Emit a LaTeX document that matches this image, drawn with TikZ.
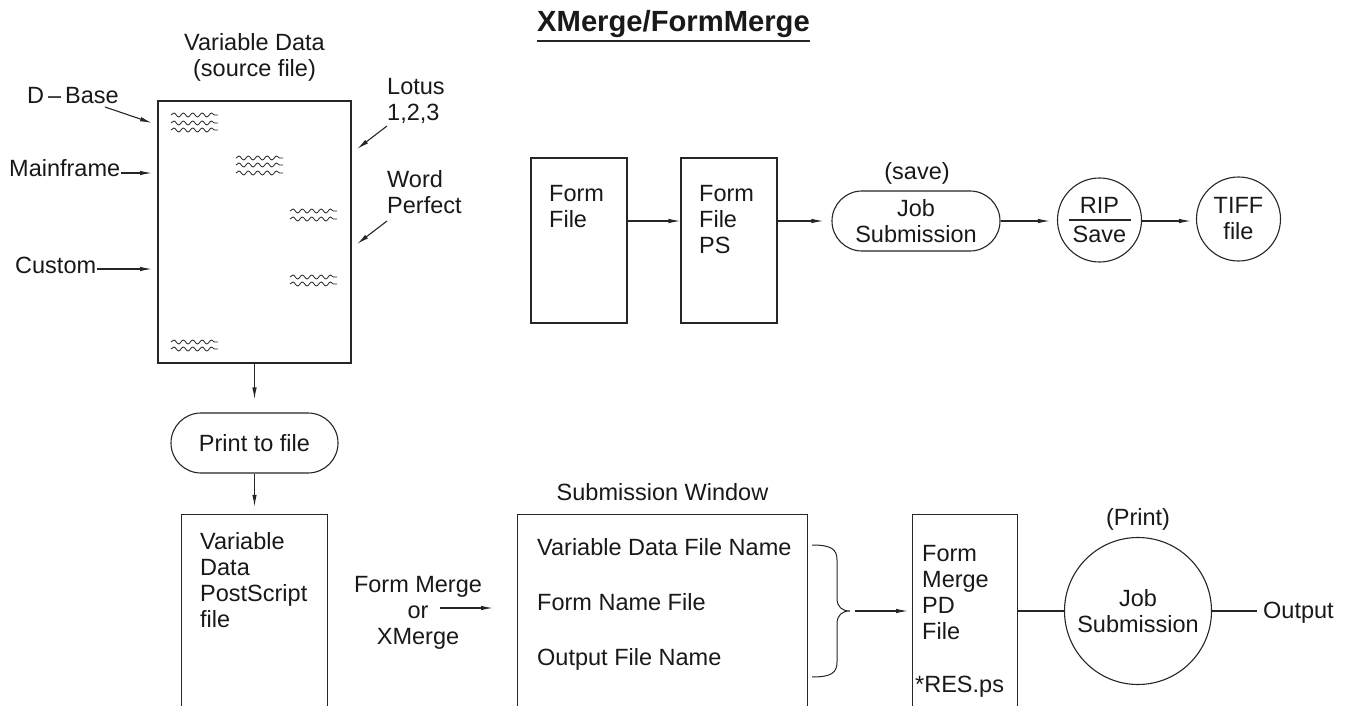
\documentclass[tikz,border=0pt]{standalone}
\usepackage{fontspec}
\setmainfont{Liberation Sans}
\usetikzlibrary{arrows.meta,decorations.pathmorphing,shapes.misc,calc}
\begin{document}
\begin{tikzpicture}[x=1pt,y=-1pt,
  every node/.style={font=\fontsize{23.5}{26}\selectfont, inner sep=0pt, text=black!90},
  line/.style={line width=1.1pt, draw=black!85},
  arr/.style={line, -{Latex[length=12pt,width=4.5pt]}},
  box/.style={line, draw, rectangle},
  pill/.style={line, draw, rounded rectangle},
  circ/.style={line, draw, circle},
  squig/.style={line width=0.8pt, draw=black!85, decorate, decoration={snake, segment length=9.4pt, amplitude=2pt}},
  lbl/.style={anchor=base west, align=left},
  clbl/.style={anchor=base, align=center},
]
\fill[white] (0,0) rectangle (1353,706);
\useasboundingbox (0,0) rectangle (1353,706);

% title (anchor = baseline)
\node[anchor=base, font=\bfseries\fontsize{29.2}{32}\selectfont] (title) at (673.5,32) {XMerge/FormMerge};
\draw[line] ($(title.base west)+(0,9)$) -- ($(title.base east)+(0,9)$);

% source file  (multi-line nodes: base anchor = last line baseline)
\node[clbl] (srclbl) at (254.5,77) {Variable Data\\(source file)};
\node[box, minimum width=193pt, minimum height=262pt] (src) at (254.5,232) {};
\foreach \x/\y in {171/115,171/123,171/130, 236/158,236/165,236/173, 290/211,290/219, 290/277,290/284, 171/342,171/349}
  \draw[squig] (\x,\y) -- ++(47,0);

\node[lbl] (dbase) at (27,104) {D\kern4pt--\kern4pt Base};
\node[lbl] (mainf) at (9,177) {Mainframe};
\node[lbl] (cust) at (15,273) {Custom};
\node[lbl] (lotus) at (387,121) {Lotus\\1,2,3};
\node[lbl] (wp) at (387,214) {Word\\Perfect};

\coordinate (dbA) at (105,107);  \coordinate (dbB) at (152,123);
\coordinate (mfB) at (152,173);
\coordinate (cuB) at (152,269);
\coordinate (loA) at (387,126);  \coordinate (loB) at (357,149);
\coordinate (wpA) at (387,221);  \coordinate (wpB) at (357,244);
\draw[arr] (dbA) -- (dbB);
\draw[arr] ([xshift=1pt,yshift=4pt]mainf.base east) -- (mfB);
\draw[arr] ([xshift=1pt,yshift=4pt]cust.base east) -- (cuB);
\draw[arr] (loA) -- (loB);
\draw[arr] (wpA) -- (wpB);

% print to file
\node[pill, minimum width=167pt, minimum height=60pt] (ptf) at (254.5,443) {Print to file};
\draw[arr, shorten >=13pt] (src.south) -- (ptf.north);

% variable data postscript (open box)
\node[minimum width=145pt, minimum height=191pt] (vdps) at (254.5,610.5) {};
\draw[line] (vdps.south west) -- (vdps.north west) -- (vdps.north east) -- (vdps.south east);
\draw[arr, shorten >=8pt] (ptf.south) -- (vdps.north);
\node[lbl] (vdpstxt) at (200,627) {Variable\\Data\\PostScript\\file};

% form merge label
\node[clbl] (fm) at (418,644) {Form Merge\\or\\XMerge};
\coordinate (fmA) at (440,608); \coordinate (fmB) at (493,608);
\draw[arr] (fmA) -- (fmB);

% submission window
\node[anchor=base] (swl) at (662.5,500) {Submission Window};
\node[minimum width=289pt, minimum height=191pt] (win) at (662.5,610.5) {};
\draw[line] (win.south west) -- (win.north west) -- (win.north east) -- (win.south east);
\node[lbl] (w1) at (537,555) {Variable Data File Name};
\node[lbl] (w2) at (537,610) {Form Name File};
\node[lbl] (w3) at (537,665) {Output File Name};
\coordinate (brTip) at (850,611);
\draw[line, line width=1pt] (812,545) .. controls (831,545) and (837,549) .. (837,560) -- (837,598)
   .. controls (837,607) and (842,611) .. (brTip) .. controls (842,611) and (837,615) .. (837,624)
   -- (837,662) .. controls (837,673) and (831,677) .. (812,677);
\coordinate (brB) at (908,611);
\draw[arr] ([xshift=5pt]brTip) -- (brB);

% form merge PD file
\node[minimum width=104pt, minimum height=191pt] (fmpd) at (965,610.5) {};
\draw[line] (fmpd.south west) -- (fmpd.north west) -- (fmpd.north east) -- (fmpd.south east);
\node[lbl] (fmpdtxt) at (922,639) {Form\\Merge\\PD\\File};
\node[lbl] (res) at (915,692) {*RES.ps};

% job submission (print)
\node[circ, minimum size=147pt, align=center] (js2) at (1138,611) {Job\\Submission};
\node[anchor=base] (prt) at (1138,525) {(Print)};
\draw[line] (js2.west -| fmpd.east) -- (js2.west);
\coordinate (outA) at (1257,611);
\draw[line] (js2.east) -- (outA);
\node[lbl] (out) at (1263,618) {Output};

% top row
\coordinate (rowY) at (0,221);
\node[box, minimum width=96pt, minimum height=165pt] (ff) at (579,240.5) {};
\node[lbl] (fftxt) at (549,227) {Form\\File};
\node[box, minimum width=96pt, minimum height=165pt] (ffps) at (729,240.5) {};
\node[lbl] (ffpstxt) at (699,253) {Form\\File\\PS};
\node[pill, minimum width=168pt, minimum height=60pt, align=center] (js1) at (916,221) {Job\\Submission};
\node[anchor=base] (save) at (917,180) {(save)};
\node[circ, minimum size=84pt] (rip) at (1099.5,220) {};
\draw[line] ([xshift=-31pt]rip.center) -- ([xshift=31pt]rip.center);
\node[anchor=base] (riptxt) at (1099.5,213) {RIP};
\node[anchor=base] (savetxt) at (1099.5,243) {Save};
\node[circ, minimum size=84pt, align=center] (tiff) at (1238.5,219) {TIFF\\file};

\draw[arr] (ff.east |- rowY) -- (ffps.west |- rowY);
\draw[arr, shorten >=8pt] (ffps.east |- rowY) -- (js1.west |- rowY);
\draw[arr, shorten >=7pt] (js1.east |- rowY) -- (rip.west |- rowY);
\draw[arr, shorten >=5pt] (rip.east |- rowY) -- (tiff.west |- rowY);
\end{tikzpicture}
\end{document}
